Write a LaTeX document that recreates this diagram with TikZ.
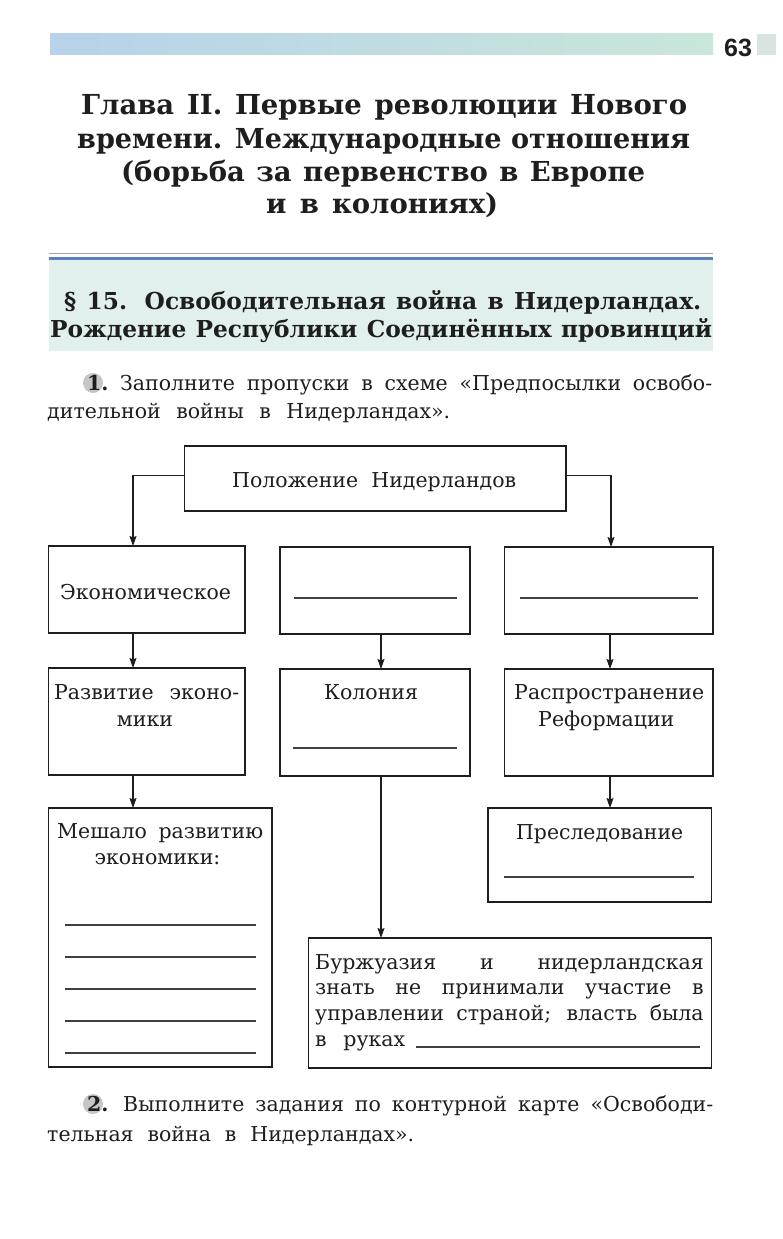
\documentclass[tikz,border=0pt]{standalone}
\usepackage{fontspec}
\usepackage{graphicx}
\setmainfont{DejaVu Serif}
\setsansfont{Liberation Sans}
\usetikzlibrary{arrows.meta}
\definecolor{barblue}{HTML}{B7D2EA}
\definecolor{bargreen}{HTML}{C9E6DA}
\definecolor{secgray}{HTML}{9AA3AD}
\definecolor{secblue}{HTML}{5A80C2}
\definecolor{banner}{HTML}{E1F0EC}
\definecolor{ink}{HTML}{1E1E1E}
\newsavebox\fitbox
\newcommand\fitline[2]{\sbox\fitbox{#2}\ifdim\wd\fitbox>#1\relax\resizebox{#1}{\height}{#2}\else\makebox[#1][s]{#2}\fi}
\tikzset{
 boxnode/.style={draw=ink, line width=1.5pt, inner sep=0pt, outer sep=0pt, anchor=north west},
 arr/.style={draw=ink, line width=1.1pt, -{Stealth[length=10pt,width=7pt,inset=1.5pt]}},
 blankline/.style={draw=ink!85, line width=1.1pt},
 txt/.style={font=\fontsize{20.5}{27}\selectfont, text=ink, inner sep=0pt, anchor=base},
 txtw/.style={txt, anchor=base west},
 ttl/.style={font=\bfseries\fontsize{27.5}{34}\selectfont, text=ink, inner sep=0pt, anchor=base west},
 sec/.style={font=\bfseries\fontsize{23.3}{28}\selectfont, text=ink, inner sep=0pt, anchor=base west},
 num/.style={font=\bfseries\fontsize{20.5}{27}\selectfont, text=ink, inner sep=0pt, anchor=base west},
}
\begin{document}
\begin{tikzpicture}[x=1pt,y=-1pt]
\useasboundingbox (0,0) rectangle (783,1239);
\fill[white] (0,0) rectangle (783,1239);
% page header
\shade[left color=barblue, right color=bargreen] (50,34) rectangle (713,55);
\fill[bargreen!70!gray!50] (757,34) rectangle (776,55);
\node[font=\sffamily\bfseries\fontsize{25}{25}\selectfont, text=ink, inner sep=0pt] (pnum) at (738,48) {63};
% chapter title
\node[ttl] (t1) at (81,114) {\fitline{606pt}{Глава II. Первые революции Нового}};
\node[ttl] (t2) at (77,148) {\fitline{613pt}{времени. Международные отношения}};
\node[ttl] (t3) at (121,181) {\fitline{524pt}{(борьба за первенство в Европе}};
\node[ttl] (t4) at (266,213) {\fitline{232pt}{и в колониях)}};
% section banner
\draw[secgray, line width=1pt] (49,253) -- (713,253);
\draw[secblue, line width=3pt] (49,258.5) -- (713,258.5);
\fill[banner] (49,260) rectangle (713,351);
\node[sec] (s1) at (64,309) {\fitline{637pt}{§ 15. Освободительная война в Нидерландах.}};
\node[sec] (s2) at (50,337) {\fitline{662pt}{Рождение Республики Соединённых провинций}};
% task 1
\fill[gray!45] (93,383) circle (10);
\node[num] (n1) at (87,390) {1.};
\node[txtw] (q1a) at (120,390) {\fitline{592pt}{Заполните пропуски в схеме «Предпосылки освобо-}};
\node[txtw] (q1b) at (47,418) {\fitline{403pt}{дительной войны в Нидерландах».}};
% boxes
\node[boxnode, minimum width=381.5pt, minimum height=65pt] (top) at (184.5,446) {};
\node[txtw] (toptxt) at (232,487) {\fitline{284pt}{Положение Нидерландов}};
\node[boxnode, minimum width=196.5pt, minimum height=87pt] (econ) at (48.5,546) {};
\node[txtw] (econtxt) at (60,599) {\fitline{172pt}{Экономическое}};
\node[boxnode, minimum width=190pt, minimum height=87pt] (m1) at (280,547) {};
\node[boxnode, minimum width=208.5pt, minimum height=87pt] (r1) at (504.5,547) {};
\node[boxnode, minimum width=196.5pt, minimum height=107pt] (dev) at (48.5,668) {};
\node[txtw] (devtxt1) at (54,699) {\fitline{185pt}{Развитие эконо-}};
\node[txt] (devtxt2) at (145,726) {мики};
\node[boxnode, minimum width=190pt, minimum height=107pt] (col) at (280,669) {};
\node[txtw] (coltxt) at (324,699) {\fitline{100pt}{Колония}};
\node[boxnode, minimum width=208.5pt, minimum height=107pt] (ref) at (504.5,669) {};
\node[txtw] (reftxt1) at (514,699) {\fitline{190pt}{Распространение}};
\node[txtw] (reftxt2) at (538,726) {\fitline{142pt}{Реформации}};
\node[boxnode, minimum width=223.5pt, minimum height=259pt] (hind) at (48.5,808) {};
\node[txtw] (hindtxt1) at (57,838) {\fitline{206pt}{Мешало развитию}};
\node[txtw] (hindtxt2) at (94.5,864) {\fitline{130pt}{экономики:}};
\node[boxnode, minimum width=223.6pt, minimum height=94pt] (pers) at (488,808) {};
\node[txtw] (perstxt) at (516,839) {\fitline{167pt}{Преследование}};
\node[boxnode, minimum width=402.9pt, minimum height=130pt] (bour) at (308.7,938) {};
\node[txtw] (bour1) at (315,969) {\fitline{388.5pt}{Буржуазия и нидерландская}};
\node[txtw] (bour2) at (315,994.5) {\fitline{388.5pt}{знать не принимали участие в}};
\node[txtw] (bour3) at (315,1020) {\fitline{388.5pt}{управлении страной; власть была}};
\node[txtw] (bour4) at (315,1046) {\fitline{90pt}{в руках}};
% blanks
\draw[blankline] (293.5,598) -- (457,598);
\draw[blankline] (520,598) -- (698,598);
\draw[blankline] (293,748) -- (457,748);
\draw[blankline] (504,877) -- (694,877);
\foreach \yy in {925,957,989,1021,1053} \draw[blankline] (64.6,\yy) -- (255.6,\yy);
\draw[blankline] (416,1047) -- (700,1047);
% arrows
\draw[arr] ([yshift=3pt]top.west) -| ([xshift=-13.75pt]econ.north);
\draw[arr] ([yshift=3pt]top.east) -| ([xshift=2.25pt]r1.north);
\draw[arr] ([xshift=-13.75pt]econ.south) -- ([xshift=-13.75pt]dev.north);
\draw[arr] ([xshift=6pt]m1.south) -- ([xshift=6pt]col.north);
\draw[arr] ([xshift=1.25pt]r1.south) -- ([xshift=1.25pt]ref.north);
\draw[arr] ([xshift=-13.75pt]dev.south) -- ([xshift=-13.75pt]dev.south |- hind.north);
\draw[arr] ([xshift=1.25pt]ref.south) -- ([xshift=1.25pt]ref.south |- pers.north);
\draw[arr] ([xshift=6pt]col.south) -- ([xshift=6pt]col.south |- bour.north);
% task 2
\fill[gray!45] (93,1104) circle (10);
\node[num] (n2) at (87,1111) {2.};
\node[txtw] (q2a) at (123,1111) {\fitline{590pt}{Выполните задания по контурной карте «Освободи-}};
\node[txtw] (q2b) at (47,1141) {\fitline{367pt}{тельная война в Нидерландах».}};
\end{tikzpicture}
\end{document}
